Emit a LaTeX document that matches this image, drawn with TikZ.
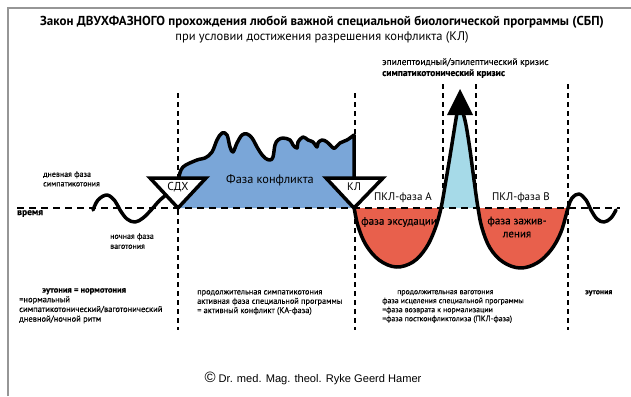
\documentclass[tikz,border=0pt]{standalone}
\usepackage{fontspec}
\setmainfont{PT Sans}
\newfontfamily\hamerfont{Liberation Sans}
\newfontface\semifont[FakeBold=0.15]{PT Sans}
\newfontface\heavyfont[FakeBold=0.2]{PT Sans Bold}
\usetikzlibrary{positioning}
\definecolor{conflblue}{RGB}{122,166,216}
\definecolor{healred}{RGB}{232,96,76}
\definecolor{crisisblue}{RGB}{166,218,232}
\definecolor{framegray}{RGB}{150,150,150}
\newcommand\heavy[1]{{\heavyfont #1}}

\begin{document}
\begin{tikzpicture}[x=1pt,y=-1pt,
    curve/.style={line width=3.5pt, line cap=round, line join=round},
    timeline/.style={dash pattern=on 7pt off 5pt, line width=1.6pt},
    phaseline/.style={dash pattern=on 5pt off 4pt, line width=2.2pt},
    marker/.style={line width=3.5pt, fill=white},
    small/.style={font=\semifont\fontsize{8.3}{9.3}\selectfont, inner sep=0pt, align=left},
    label/.style={font=\fontsize{11}{13}\selectfont, inner sep=0pt}]

\useasboundingbox (0,0) rectangle (631,396);

% frame
\draw[framegray, line width=1.2pt] (8,396) -- (8,8) -- (631,8);

% title
\node[font=\bfseries\fontsize{13}{15}\selectfont, inner sep=0pt] (title) at (322,22)
  {Закон ДВУХФАЗНОГО прохождения любой важной специальной биологической программы (СБП)};
\node[font=\fontsize{12.5}{15}\selectfont, inner sep=0pt] (subtitle) at (322,37)
  {при условии достижения разрешения конфликта (КЛ)};

% phase borders
\foreach \x/\top/\bot in {178/93/330, 355/93/330, 443/84/208, 476/84/208, 568/84/330}
  \draw[phaseline] (\x,\top) -- (\x,\bot);

% fills
\fill[conflblue] (179,208) -- plot[smooth, tension=.6] coordinates {(179,177) (183,167) (197,160)
  (205,158) (212,152) (217,140) (222,133) (227,135) (230,147) (233,152) (237,143) (242,135)
  (247,134) (252,138) (257,147) (260,152) (265,158) (270,160) (273,157) (275,145) (278,140)
  (283,138) (290,140) (293,145) (297,148) (298,142) (303,137) (308,140) (313,142) (317,147)
  (318,143) (322,140) (327,142) (332,147) (335,148) (340,143) (347,140) (354,135)} -- (354,208) -- cycle;
\fill[healred] plot[smooth, tension=.6] coordinates {(354,208) (358,226) (366,245) (379,260)
  (396,267) (413,262) (426,248) (435,229) (441,208)} -- cycle;
\fill[healred] plot[smooth, tension=.6] coordinates {(478,208) (482,228) (490,248) (503,262)
  (520,268) (537,263) (551,250) (561,232) (568,208)} -- cycle;
\fill[crisisblue] plot[smooth] coordinates {(441,208) (446,180) (451,150) (455,125) (457,113)}
  -- plot[smooth] coordinates {(463,113) (466,125) (470,150) (474,180) (478,208)} -- cycle;

% time axis
\draw[timeline] (17,208) -- (620,208);

% curves
\draw[curve] plot[smooth, tension=.6] coordinates {(93,210) (98,200) (107,195) (115,201)
  (120,210) (127,219) (135,222) (143,218) (152,209) (160,200) (170,192)};
\draw[curve] plot[smooth, tension=.6] coordinates {(179,177) (183,167) (197,160)
  (205,158) (212,152) (217,140) (222,133) (227,135) (230,147) (233,152) (237,143) (242,135)
  (247,134) (252,138) (257,147) (260,152) (265,158) (270,160) (273,157) (275,145) (278,140)
  (283,138) (290,140) (293,145) (297,148) (298,142) (303,137) (308,140) (313,142) (317,147)
  (318,143) (322,140) (327,142) (332,147) (335,148) (340,143) (347,140) (354,135)} -- (354,178);
\draw[curve] plot[smooth, tension=.6] coordinates {(354,207) (358,226) (366,245) (379,260)
  (396,267) (413,262) (426,248) (435,229) (441,208) (446,180) (451,150) (455,125) (457,113)};
\draw[curve] plot[smooth, tension=.6] coordinates {(463,113) (466,125) (470,150) (474,180)
  (478,208) (482,228) (490,248) (503,262) (520,268) (537,263) (551,250) (561,232) (568,208)
  (572,198) (579,194) (586,200) (591,210) (597,219) (604,222) (611,218) (616,210)};
\fill (447,115) -- (460,89) -- (473,115) -- cycle;

% markers
\draw[marker] (150,178) -- (206,178) -- (178,208) -- cycle;
\draw[marker] (326,178) -- (383,178) -- (354,208) -- cycle;
\node[label, font=\fontsize{11.5}{13}\selectfont] (sdh) at (178,187) {СДХ};
\node[label] (kl) at (354,187) {КЛ};

% phase labels
\node[label, font=\fontsize{12.3}{14}\selectfont] (conflict) at (270,180) {Фаза конфликта};
\node[label] (pclA) at (403,198) {ПКЛ-фаза A};
\node[label] (pclB) at (521,198) {ПКЛ-фаза B};
\node[label, font=\semifont\fontsize{11}{13}\selectfont] (exsud) at (399,222) {фаза эксудации};
\node[label, align=center, font=\semifont\fontsize{11}{13}\selectfont] (repair) at (517,227) {фаза зажив-\\ления};

% small texts
\node[small, anchor=north west, font=\semifont\fontsize{8}{9.5}\selectfont] (day) at (43,171) {дневная фаза\\симпатикотония};
\node[small, anchor=north, font=\semifont\fontsize{8}{10}\selectfont] (night) at (132,233) {ночная фаза\\ваготония};
\node[small, anchor=north west, font=\heavyfont\fontsize{9.5}{10}\selectfont] (time) at (17,210) {время};
\node[small, anchor=north west, font=\semifont\fontsize{9.5}{11}\selectfont] (crisis) at (382,58)
  {эпилептоидный/эпилептический кризис\\\heavy{симпатикотонический кризис}};

\node[small, anchor=north west, font=\semifont\fontsize{8.5}{9.7}\selectfont] (eut) at (19,288)
  {\hspace*{23pt}\heavy{эутония = нормотония}\\=нормальный\\
  симпатикотонический/ваготонический\\дневной/ночной ритм};
\node[small, anchor=north west] (ca) at (197,290) {продолжительная симпатикотония\\
  активная фаза специальной программы\\= активный конфликт (КА-фаза)};
\node[small, anchor=north west, font=\semifont\fontsize{7.8}{9}\selectfont] (pcl) at (382,290)
  {\hspace*{15pt}продолжительная ваготония\\
  фаза исцеления специальной программы\\=фаза возврата к нормализации\\
  =фаза постконфликтолиза (ПКЛ-фаза)};
\node[small, anchor=north west, font=\heavyfont\fontsize{7.8}{9}\selectfont] (eut2) at (585,290) {эутония};

\node[font=\hamerfont\fontsize{11.1}{13}\selectfont, inner sep=0pt] (author) at (313,378)
  {{\fontsize{15}{15}\selectfont\textcopyright} Dr. med. Mag. theol. Ryke Geerd Hamer};
\end{tikzpicture}
\end{document}
